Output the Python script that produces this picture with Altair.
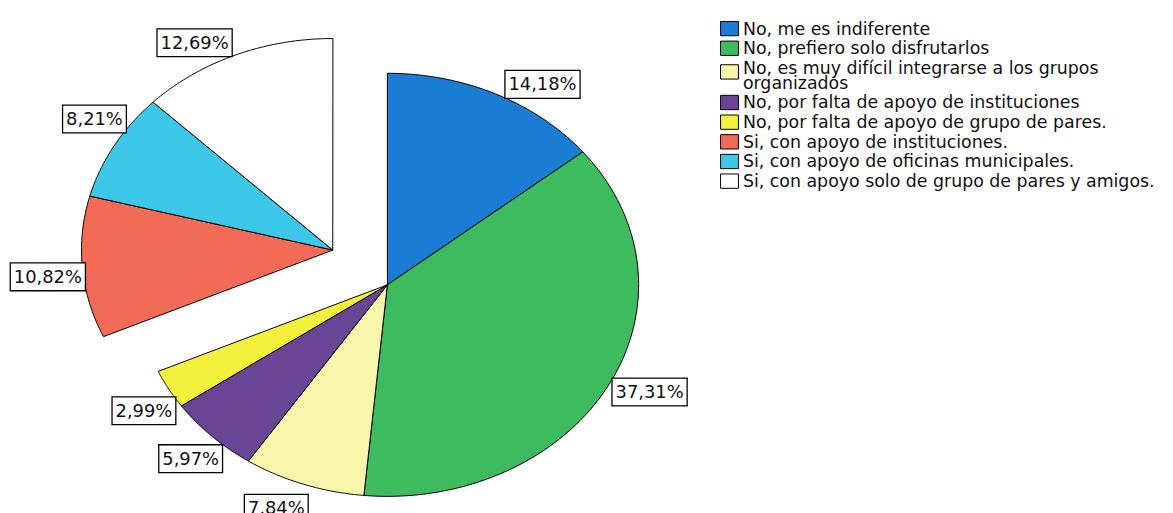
import altair as alt
import pandas as pd

# ---------------- data ----------------
categories = [
    "No, me es indiferente",
    "No, prefiero solo disfrutarlos",
    "No, es muy difícil integrarse a los grupos organizados",
    "No, por falta de apoyo de instituciones",
    "No, por falta de apoyo de grupo de pares.",
    "Si, con apoyo de instituciones.",
    "Si, con apoyo de oficinas municipales.",
    "Si, con apoyo solo de grupo de pares y amigos.",
]
percentages = [14.18, 37.31, 7.84, 5.97, 2.99, 10.82, 8.21, 12.69]
colors = ["#1A7DD3", "#3DBC5F", "#F8F6AA", "#6A4595", "#F4F13C", "#F16B57", "#3DC8EA", "#FFFFFF"]

# label layout tweaks (angle shift in % of the circle, radius in pie radii)
label_shift = [2.1, -0.64, 0.9, -0.2, -0.56, -0.47, 1.0, -1.8]
label_radius = [1.131, 1.16, 1.145, 1.135, 1.137, 1.141, 1.133, 1.124]

df = pd.DataFrame({
    "cat": categories,
    "pct": percentages,
    "idx": list(range(len(categories))),
    "lshift": label_shift,
    "lrad": label_radius,
})

# ---------------- layout ----------------
W, H = 1165, 505          # drawing area (px), reaches the window edges
RX, RY = 253, 213         # pie radius, horizontal / vertical (px per unit)
CX, CY = 382, 277         # pie centre in plot px
x_dom = [-CX / RX, (W - CX) / RX]
y_dom = [-(H - CY) / RY, CY / RY]
EX, EY = -55 / RX, 35 / RY  # explode offset of the "Si" group
N = 80
LEG_Y0, LEG_STEP, LEG_EXTRA = 19, 19.8, 15   # legend rows (px)
LEG_SQ_X, LEG_TX_X = 726.5, 740

xs = alt.Scale(domain=x_dom, nice=False, zero=False)
ys = alt.Scale(domain=y_dom, nice=False, zero=False)
cscale = alt.Scale(domain=categories, range=colors)

base = alt.Chart(df).transform_window(
    cum="sum(pct)", sort=[alt.SortField("idx")], frame=[None, 0]
).transform_calculate(
    start="datum.cum - datum.pct",
    ox=f"indexof(datum.cat, 'Si') === 0 ? {EX} : 0",
    oy=f"indexof(datum.cat, 'Si') === 0 ? {EY} : 0",
)

slices = base.transform_calculate(
    t=f"sequence(-1, {N + 2})"
).transform_flatten(["t"]).transform_calculate(
    onarc=f"datum.t >= 0 && datum.t <= {N}",
    ang=f"2*PI*(datum.start + datum.pct*datum.t/{N})/100",
).transform_calculate(
    px="datum.ox + (datum.onarc ? sin(datum.ang) : 0)",
    py="datum.oy + (datum.onarc ? cos(datum.ang) : 0)",
).mark_line(
    filled=True, stroke="black", strokeWidth=1, strokeJoin="round"
).encode(
    x=alt.X("px:Q", scale=xs, axis=None),
    y=alt.Y("py:Q", scale=ys, axis=None),
    color=alt.Color("cat:N", scale=cscale, legend=None),
    order=alt.Order("t:Q"),
    detail="cat:N",
)

lab = base.transform_calculate(
    mid="2*PI*(datum.start + datum.pct/2 + datum.lshift)/100",
    txt="replace(format(datum.pct, '.2f'), '.', ',') + '%'",
).transform_calculate(
    lx="datum.ox + datum.lrad*sin(datum.mid)",
    ly="datum.oy + datum.lrad*cos(datum.mid)",
    bw="length(datum.txt)*11.45 + 7",
).transform_calculate(
    bx1=f"datum.lx - datum.bw/2/{RX}",
    bx2=f"datum.lx + datum.bw/2/{RX}",
    by1=f"datum.ly - 14/{RY}",
    by2=f"datum.ly + 14/{RY}",
)

boxes = lab.mark_rect(fill="white", stroke="black", strokeWidth=1.3).encode(
    x=alt.X("bx1:Q", scale=xs, axis=None),
    x2="bx2:Q",
    y=alt.Y("by1:Q", scale=ys, axis=None),
    y2="by2:Q",
)

texts = lab.mark_text(
    font="DejaVu Sans", fontSize=18, color="#111111", align="center", baseline="middle", dy=1
).encode(
    x=alt.X("lx:Q", scale=xs, axis=None),
    y=alt.Y("ly:Q", scale=ys, axis=None),
    text="txt:N",
)

# ---------------- legend (drawn as marks) ----------------
leg = alt.Chart(df).transform_calculate(
    rowpx=f"{LEG_Y0} + datum.idx*{LEG_STEP} + (datum.idx > 2 ? {LEG_EXTRA} : 0)",
    gtxt="replace(datum.cat, 'grupos organizados', 'grupos|organizados')",
).transform_calculate(
    gy=f"{y_dom[1]} - datum.rowpx/{RY}",
    sqy=f"{y_dom[1]} - (datum.rowpx + (datum.idx == 2 ? 4 : 0))/{RY}",
)

leg_sq = leg.mark_point(
    shape="M-1,-0.8L1,-0.8L1,0.8L-1,0.8Z", size=324, filled=True,
    stroke="black", strokeWidth=1, opacity=1
).encode(
    x=alt.value(LEG_SQ_X),
    y=alt.Y("sqy:Q", scale=ys, axis=None),
    color=alt.Color("cat:N", scale=cscale, legend=None),
)

leg_tx = leg.mark_text(
    font="DejaVu Sans", fontSize=17.5, color="#111111", align="left", baseline="middle",
    lineBreak="|", lineHeight=15, dy=1
).encode(
    x=alt.value(LEG_TX_X),
    y=alt.Y("gy:Q", scale=ys, axis=None),
    text="gtxt:N",
)

chart = alt.layer(slices, boxes, texts, leg_sq, leg_tx).properties(
    width=W, height=H, padding=0, autosize="none", background="white"
).configure_view(strokeWidth=0)

chart.save("out.html", embed_options={"renderer": "svg", "actions": False})
